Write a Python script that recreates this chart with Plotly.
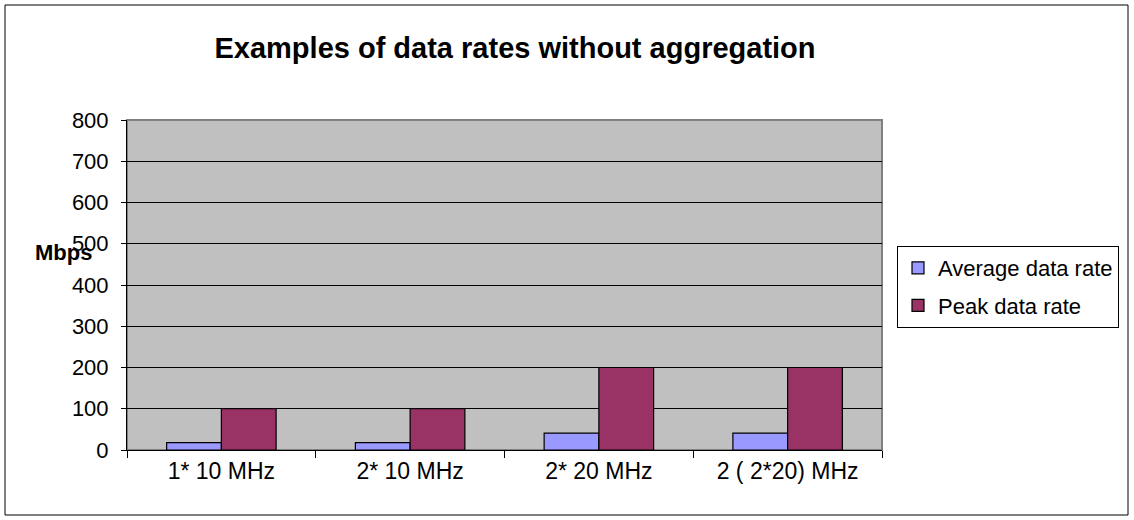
import plotly.graph_objects as go

categories = ["1* 10 MHz", "2* 10 MHz", "2* 20 MHz", "2 ( 2*20) MHz"]
average_rate = [18, 18, 41, 41]
peak_rate = [100, 100, 200, 200]
y_ticks = [0, 100, 200, 300, 400, 500, 600, 700, 800]

W, H = 1134, 520
L, R, T, B = 127, 882, 120, 450
FAMILY = "Arial, Liberation Sans, sans-serif"


def px(x):
    return (x - L) / (R - L)


def py(y):
    return (B - y) / (B - T)


fig = go.Figure()
fig.add_trace(
    go.Bar(
        x=categories,
        y=average_rate,
        name="Average data rate",
        legendgroup="avg",
        marker=dict(color="#9999FF", line=dict(color="#000000", width=1.2)),
    )
)
fig.add_trace(
    go.Bar(
        x=categories,
        y=peak_rate,
        name="Peak data rate",
        legendgroup="peak",
        marker=dict(color="#993366", line=dict(color="#000000", width=1.2)),
    )
)

font = dict(family=FAMILY, size=22, color="#000000")

fig.update_layout(
    width=W,
    height=H,
    paper_bgcolor="#FFFFFF",
    plot_bgcolor="#C0C0C0",
    font=font,
    margin=dict(l=L, r=W - R, t=T, b=H - B),
    barmode="group",
    bargap=0.42,
    bargroupgap=0,
    title=dict(
        text="<b>Examples of data rates without aggregation</b>",
        x=515 / W,
        xanchor="center",
        y=1 - 48 / H,
        yanchor="middle",
        font=dict(family=FAMILY, size=29, color="#000000"),
    ),
    xaxis=dict(
        showgrid=False,
        showline=True,
        linecolor="#000000",
        linewidth=1,
        ticks="outside",
        tickson="boundaries",
        ticklen=7,
        tickcolor="#000000",
        tickfont=dict(family=FAMILY, size=23, color="#000000"),
    ),
    yaxis=dict(
        range=[0, 800],
        tickvals=y_ticks,
        showgrid=True,
        gridcolor="#000000",
        gridwidth=1,
        showline=True,
        linecolor="#000000",
        linewidth=1,
        ticks="outside",
        ticklen=5,
        tickcolor="#000000",
        tickfont=font,
        ticklabelstandoff=8,
        zeroline=False,
    ),
    legend=dict(
        x=px(897),
        y=py(246),
        xanchor="left",
        yanchor="top",
        bordercolor="#000000",
        borderwidth=1,
        bgcolor="#FFFFFF",
        font=font,
        tracegroupgap=6,
        itemwidth=30,
    ),
    showlegend=True,
)

# plot area border
fig.add_shape(
    type="rect", xref="paper", yref="paper", x0=0, y0=0, x1=1, y1=1,
    line=dict(color="#808080", width=2), layer="below",
)
# outer chart border
fig.add_shape(
    type="rect", xref="paper", yref="paper",
    x0=px(5), y0=py(515), x1=px(1128), y1=py(5),
    line=dict(color="#000000", width=1),
)

fig.add_annotation(
    text="<b>Mbps</b>",
    xref="paper", yref="paper",
    x=px(63), y=py(252),
    xanchor="center", yanchor="middle",
    showarrow=False,
    font=dict(family=FAMILY, size=22, color="#000000"),
)

fig.write_html(
    "out.html",
    config={"displayModeBar": False},
    post_script="document.body.style.margin='0';",
)
